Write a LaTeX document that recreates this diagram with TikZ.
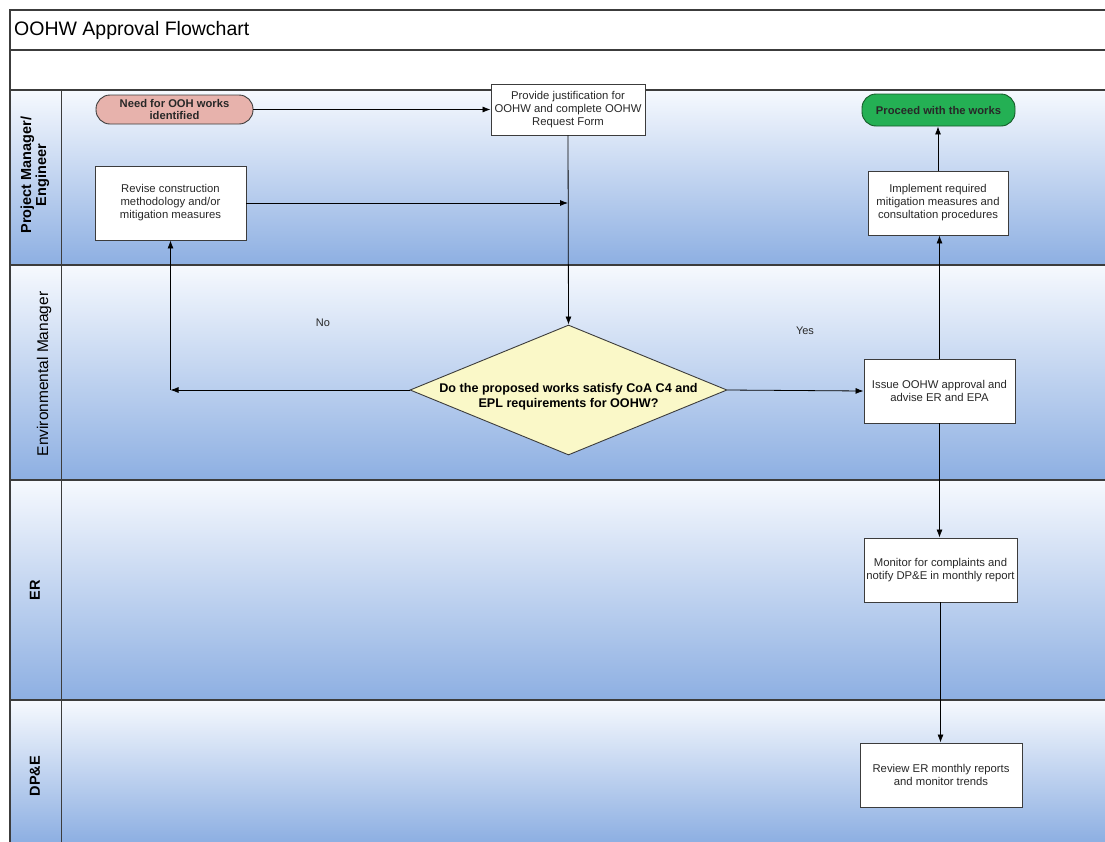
\documentclass[tikz,border=0pt]{standalone}
\usepackage{fontspec}
\setmainfont{Liberation Sans}
\usetikzlibrary{shapes.geometric,arrows.meta}
\definecolor{lanetop}{RGB}{246,249,254}
\definecolor{lanebot}{RGB}{141,175,226}
\definecolor{edgegray}{RGB}{60,60,60}
\definecolor{pinkfill}{RGB}{231,178,172}
\definecolor{greenfill}{RGB}{36,176,84}
\definecolor{greenedge}{RGB}{20,90,40}
\definecolor{yellowfill}{RGB}{250,248,200}
\definecolor{textgray}{RGB}{40,40,40}
\tikzset{
  lane/.style={top color=lanetop, bottom color=lanebot},
  frame/.style={draw=edgegray, line width=1.1pt},
  procbox/.style={draw=edgegray, fill=white, line width=0.9pt, align=center, inner sep=1pt,
    font=\fontsize{11.3}{13}\selectfont, text=textgray},
  terminal/.style={draw=edgegray, line width=0.9pt, rounded corners=14pt, align=center, inner sep=1pt,
    font=\bfseries\fontsize{11.2}{12.5}\selectfont, text=textgray},
  decision/.style={diamond, draw=edgegray, fill=yellowfill, line width=0.9pt, inner sep=0pt, aspect=2.44},
  decisiontext/.style={align=center, font=\bfseries\fontsize{12.6}{15}\selectfont, inner sep=0pt},
  arr/.style={draw=black, line width=0.8pt, -{Latex[length=8pt,width=6pt]}},
  lanelabel/.style={rotate=90, align=center, font=\bfseries\fontsize{14.5}{15}\selectfont},
  edgelabel/.style={font=\fontsize{11}{12}\selectfont, text=textgray}
}
\begin{document}
\begin{tikzpicture}[x=1pt,y=-1pt]
\useasboundingbox (0,0) rectangle (1105,841);
% bands
\fill[white] (0,0) rectangle (1105,841);
\shade[lane] (10,90) rectangle (1106,265);
\shade[lane] (10,265) rectangle (1106,480);
\shade[lane] (10,480) rectangle (1106,700);
\shade[lane] (10,700) rectangle (1106,842);
% frame lines
\draw[frame] (1106,10) -- (10,10) -- (10,842);
\draw[frame] (10,50) -- (1106,50);
\draw[frame] (10,90) -- (1106,90);
\draw[frame] (10,265) -- (1106,265);
\draw[frame] (10,480) -- (1106,480);
\draw[frame] (10,700) -- (1106,700);
\draw[draw=edgegray, line width=0.9pt] (61,90) -- (61,842);
% title
\node[anchor=west, font=\fontsize{19.5}{21}\selectfont, inner sep=0pt] (title) at (14,30) {OOHW Approval Flowchart};
% lane labels
\node[lanelabel] (l1) at (35,175) {Project Manager/\\Engineer};
\node[lanelabel, font=\fontsize{15.5}{16}\selectfont] (l2) at (44,374) {Environmental Manager};
\node[lanelabel] (l3) at (35,590) {ER};
\node[lanelabel] (l4) at (35,776) {DP\&E};
% nodes
\node[terminal, fill=pinkfill, minimum width=157pt, minimum height=29pt] (need) at (174.5,109.5) {Need for OOH works\\identified};
\node[procbox, minimum width=154pt, minimum height=51pt] (prov) at (568,109.5) {Provide justification for\\OOHW and complete OOHW\\Request Form};
\node[terminal, fill=greenfill, draw=greenedge, minimum width=153pt, minimum height=32pt] (proc) at (938.5,110) {Proceed with the works};
\node[procbox, minimum width=151pt, minimum height=74pt] (rev) at (170.5,203) {Revise construction\\methodology and/or\\mitigation measures};
\node[procbox, minimum width=140pt, minimum height=64pt] (impl) at (938,203) {Implement required\\mitigation measures and\\consultation procedures};
\node[decision, minimum width=317pt, minimum height=130pt] (dec) at (568.5,390) {};
\node[decisiontext] (dectext) at (568.5,397) {Do the proposed works satisfy CoA C4 and\\EPL requirements for OOHW?};
\node[procbox, minimum width=151pt, minimum height=64pt] (issue) at (939.5,391) {Issue OOHW approval and\\advise ER and EPA};
\node[procbox, minimum width=153pt, minimum height=64pt] (mon) at (940.5,570) {Monitor for complaints and\\notify DP\&E in monthly report};
\node[procbox, minimum width=162pt, minimum height=64pt] (rev2) at (941,775) {Review ER monthly reports\\and monitor trends};
% edge labels
\node[edgelabel] (no) at (323,323) {No};
\node[edgelabel] (yes) at (805,331) {Yes};
% connectors
\draw[arr] (need.east) -- (prov.west);
\draw[arr] (prov.south) -- (dec.north);
\draw[arr] (rev.east) -- (prov.south |- rev.east);
\coordinate (nc) at (rev.south |- dec.west);
\draw[arr] (dec.west) -- (nc);
\draw[arr] (nc) -- (rev.south);
\draw[arr] (dec.east) -- (issue.west);
\draw[arr] (issue.north) -- (issue.north |- impl.south);
\draw[arr] (impl.north) -- (impl.north |- proc.south);
\draw[arr] (issue.south) -- (issue.south |- mon.north);
\draw[arr] (mon.south) -- (mon.south |- rev2.north);
\end{tikzpicture}
\end{document}
